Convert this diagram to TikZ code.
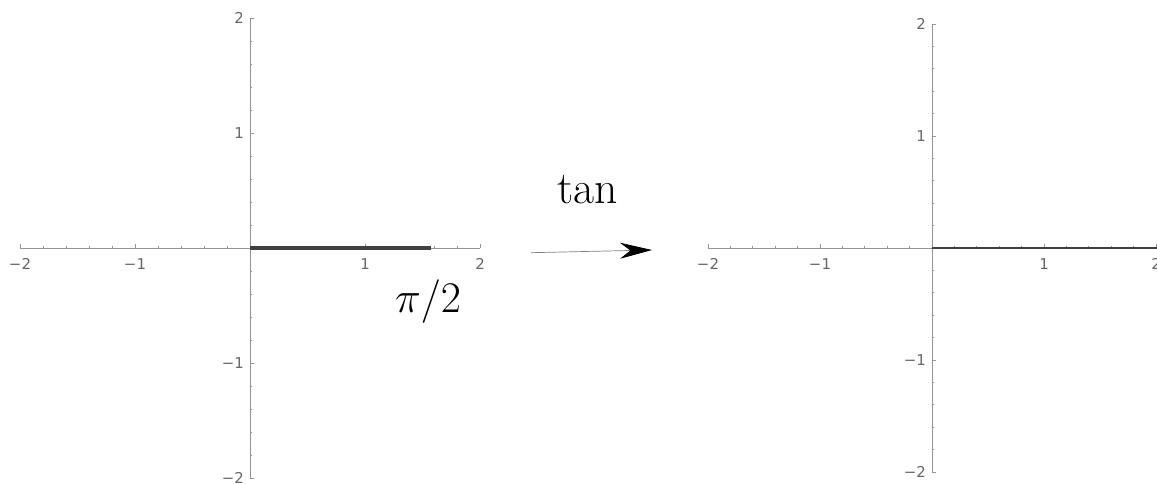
\documentclass[tikz,border=0pt]{standalone}
\usepackage{fontspec}
\newfontfamily\tickfont{DejaVu Sans}
\usetikzlibrary{arrows.meta}
\definecolor{axisgray}{gray}{0.58}
\definecolor{labelgray}{gray}{0.40}
\definecolor{curvegray}{gray}{0.25}
\tikzset{
    axisline/.style={draw=axisgray, line width=0.5pt},
    tickmark/.style={draw=axisgray, line width=0.4pt},
    ticklabel/.style={font=\tickfont\fontsize{8.5}{9}\selectfont, text=labelgray, inner sep=1pt},
    segment/.style={draw=curvegray},
    mapping/.style={-{Stealth[length=0.64cm, width=0.32cm, black]}, draw=gray, line width=0.4pt},
    biglabel/.style={font=\fontsize{26}{30}\selectfont, inner sep=0pt},
}

\begin{document}
\begin{tikzpicture}
    \useasboundingbox (0,0) rectangle (23.14,9.66);

    % the two plots: origin, unit, end and width of the thick segment
    \foreach \ox/\u/\xe/\w/\p in {5.00/2.30/1.5708/2pt/l, 18.64/2.24/2.6/1.4pt/r}{
    \begin{scope}[shift={(\ox,4.70)}, x=\u cm, y=\u cm]
        \draw[axisline] (-2,0) -- (2,0);
        \draw[axisline] (0,-2) -- (0,2);
        % minor ticks
        \foreach \k in {-10,...,10}{
            \draw[tickmark] (\k/5,0) -- ++(0,0.04cm);
            \draw[tickmark] (0,\k/5) -- ++(0.04cm,0);
        }
        % major ticks and labels
        \foreach \v/\s in {-2/−2,-1/−1,1/1,2/2}{
            \draw[tickmark] (\v,0) -- ++(0,0.08cm);
            \draw[tickmark] (0,\v) -- ++(0.08cm,0);
            \node[ticklabel, anchor=north] (xl-\p\v) at ([yshift=-0.16cm]\v,0) {\s};
            \node[ticklabel, anchor=east] (yl-\p\v) at ([xshift=-0.08cm]0,\v) {\s};
        }
        \draw[segment, line width=\w] (0,0) -- (\xe,0);
    \end{scope}
    }

    \node[biglabel, anchor=base] (halfpi) at (8.56,3.42) {$\pi/2$};
    \node[biglabel, anchor=base] (tanlabel) at (11.76,5.60) {$\tan$};

    \coordinate (mapfrom) at (10.62,4.606);
    \coordinate (mapto) at (13.04,4.66);
    \draw[mapping] (mapfrom) -- (mapto);
\end{tikzpicture}
\end{document}
